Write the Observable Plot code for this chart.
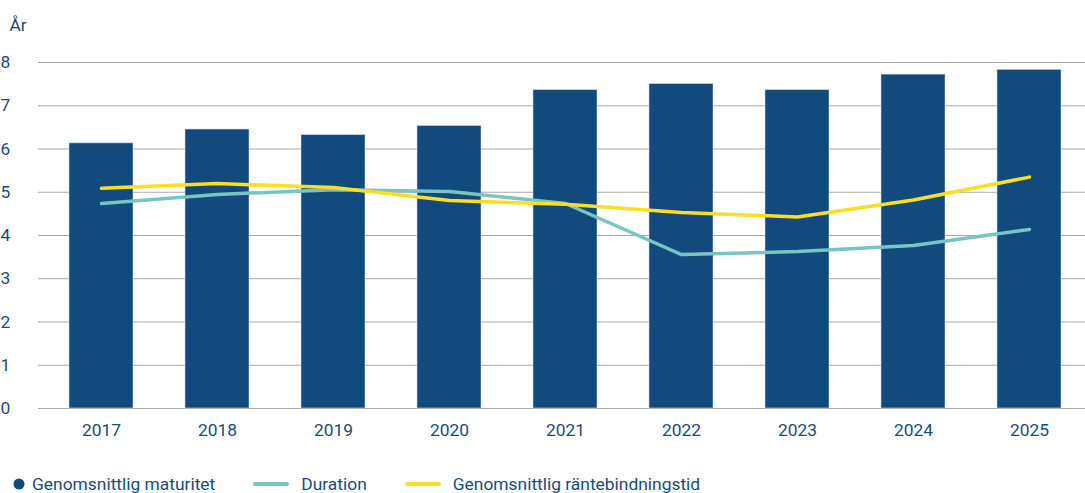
<!DOCTYPE html>
<html><head><meta charset="utf-8">
<script src="https://cdn.jsdelivr.net/npm/d3@7"></script>
<script src="https://cdn.jsdelivr.net/npm/@observablehq/plot@0.6"></script>
<style>
body{margin:0;background:#fff;font-family:Roboto,sans-serif;}
#legend{display:flex;align-items:center;height:30px;font-size:17.4px;color:#1b4b80;margin-top:14px;}
.item{display:flex;align-items:center;}
</style></head><body>
<div id="chart"></div>
<div id="legend">
  <div class="item" style="margin-left:12px"><svg width="14" height="14"><circle cx="7" cy="7" r="5.5" fill="#134a7e"/></svg><span style="margin-left:6px">Genomsnittlig maturitet</span></div>
  <div class="item" style="margin-left:38px"><svg width="36" height="8"><line x1="2" x2="34" y1="4" y2="4" stroke="#76c5c2" stroke-width="4" stroke-linecap="round"/></svg><span style="margin-left:12px">Duration</span></div>
  <div class="item" style="margin-left:38px"><svg width="36" height="8"><line x1="2" x2="34" y1="4" y2="4" stroke="#ffdd22" stroke-width="4" stroke-linecap="round"/></svg><span style="margin-left:12px">Genomsnittlig räntebindningstid</span></div>
</div>
<script>
const years = ["2017","2018","2019","2020","2021","2022","2023","2024","2025"];
const maturitet = [6.13, 6.45, 6.32, 6.53, 7.36, 7.50, 7.36, 7.72, 7.83];
const duration = [4.74, 4.95, 5.06, 5.02, 4.74, 3.56, 3.63, 3.77, 4.14];
const rantebindning = [5.09, 5.20, 5.11, 4.81, 4.72, 4.53, 4.43, 4.82, 5.35];
const yTicks = [0,1,2,3,4,5,6,7,8];

const bars = years.map((y,i)=>({year:y, v:maturitet[i]}));
const dur = years.map((y,i)=>({year:y, v:duration[i]}));
const rb = years.map((y,i)=>({year:y, v:rantebindning[i]}));
const textColor = "#1b4b80";

const chart = Plot.plot({
  width: 1085,
  height: 455,
  marginTop: 62,
  marginBottom: 47,
  marginLeft: 38,
  marginRight: 0,
  style: {fontFamily: "Roboto, sans-serif", fontSize: "17.4px", color: textColor},
  x: {domain: years, paddingInner: 0.45, paddingOuter: 0.225, range: [40, 1090], label: null},
  y: {domain: [0, 8], ticks: yTicks, label: null},
  marks: [
    Plot.ruleY(yTicks, {stroke: "#aaa", strokeWidth: 1.2}),
    Plot.barY(bars, {x: "year", y: "v", fill: "#134a7e", stroke: "#c8d4e0", strokeWidth: 0.6}),
    Plot.line(dur, {x: "year", y: "v", stroke: "#76c5c2", strokeWidth: 3.5, strokeLinecap: "round", strokeLinejoin: "round"}),
    Plot.line(rb, {x: "year", y: "v", stroke: "#ffdd22", strokeWidth: 3.5, strokeLinecap: "round", strokeLinejoin: "round"}),
    Plot.axisX({tickSize: 0, tickPadding: 15, fill: textColor, fontSize: "17.4px"}),
    Plot.axisY({ticks: yTicks, tickSize: 0, textAnchor: "start", dx: -29, fill: textColor, fontSize: "17.4px", label: null}),
    Plot.text(["År"], {frameAnchor: "top-left", dx: -29, dy: -44, fill: textColor, fontSize: "17.4px", textAnchor: "start"})
  ]
});
document.getElementById("chart").appendChild(chart);
</script>
</body></html>
